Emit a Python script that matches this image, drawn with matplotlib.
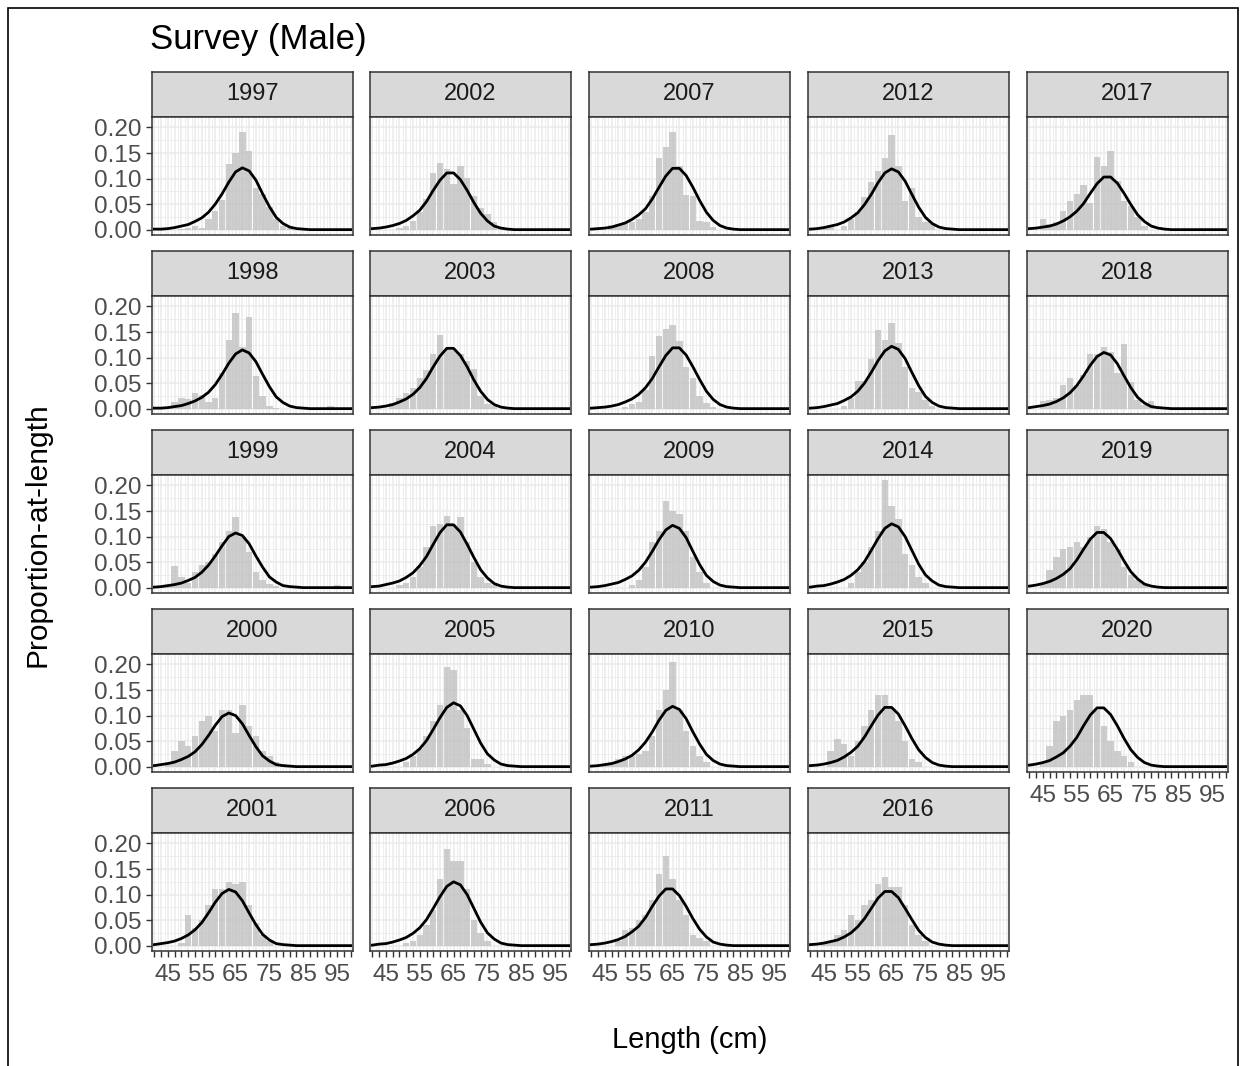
import numpy as np
import matplotlib.pyplot as plt
from matplotlib.patches import Rectangle

# length bins (cm), bar centres and fitted curve share the same grid
LENGTHS = list(range(41, 101, 2))

YEARS = [1997, 1998, 1999, 2000, 2001,
         2002, 2003, 2004, 2005, 2006,
         2007, 2008, 2009, 2010, 2011,
         2012, 2013, 2014, 2015, 2016,
         2017, 2018, 2019, 2020]

# observed proportion-at-length (bars), x = 41, 43, ..., 99
obs_1997 = [0, 0, 0, 0, 0.002, 0.003, 0.008, 0.004, 0.021, 0.037, 0.058, 0.128, 0.151, 0.192, 0.154, 0.081, 0.070, 0.044, 0.021, 0.008, 0.003, 0, 0, 0, 0, 0, 0, 0, 0, 0]
obs_1998 = [0, 0, 0.004, 0.013, 0.020, 0.018, 0.031, 0.026, 0.013, 0.020, 0.070, 0.135, 0.187, 0.120, 0.179, 0.063, 0.024, 0.006, 0.002, 0, 0, 0, 0, 0, 0, 0, 0.005, 0, 0, 0]
obs_1999 = [0, 0, 0.005, 0.043, 0.020, 0.010, 0.030, 0.045, 0.050, 0.065, 0.090, 0.110, 0.138, 0.100, 0.070, 0.030, 0.015, 0.008, 0.004, 0, 0, 0, 0, 0, 0, 0, 0, 0.006, 0, 0]
obs_2000 = [0, 0, 0.010, 0.030, 0.050, 0.040, 0.060, 0.090, 0.100, 0.070, 0.110, 0.110, 0.065, 0.120, 0.080, 0.060, 0.030, 0.020, 0.010, 0.005, 0, 0, 0, 0, 0, 0, 0, 0, 0, 0]
obs_2001 = [0, 0, 0, 0, 0.005, 0.060, 0.035, 0.050, 0.080, 0.110, 0.110, 0.125, 0.120, 0.125, 0.080, 0.045, 0.020, 0.010, 0, 0, 0, 0, 0, 0, 0, 0, 0, 0, 0, 0]
obs_2002 = [0, 0, 0, 0, 0.003, 0.008, 0.017, 0.034, 0.060, 0.111, 0.130, 0.118, 0.090, 0.125, 0.102, 0.066, 0.043, 0.030, 0.014, 0.004, 0, 0, 0, 0, 0, 0, 0, 0, 0, 0]
obs_2003 = [0, 0, 0, 0.011, 0.021, 0.030, 0.041, 0.060, 0.075, 0.107, 0.144, 0.115, 0.114, 0.107, 0.093, 0.077, 0.024, 0.010, 0.006, 0, 0, 0, 0, 0, 0, 0, 0, 0, 0, 0]
obs_2004 = [0, 0, 0, 0, 0.005, 0.010, 0.020, 0.040, 0.080, 0.120, 0.125, 0.140, 0.120, 0.138, 0.090, 0.050, 0.020, 0.010, 0.005, 0, 0, 0, 0, 0, 0, 0, 0, 0, 0, 0]
obs_2005 = [0, 0, 0, 0, 0, 0.010, 0.020, 0.035, 0.060, 0.090, 0.120, 0.195, 0.190, 0.110, 0.075, 0.015, 0.015, 0.005, 0, 0, 0, 0, 0, 0, 0, 0, 0, 0, 0, 0]
obs_2006 = [0, 0, 0, 0, 0, 0.005, 0.010, 0.020, 0.040, 0.070, 0.130, 0.190, 0.165, 0.165, 0.110, 0.050, 0.025, 0.010, 0, 0, 0, 0, 0, 0, 0, 0, 0, 0, 0, 0]
obs_2007 = [0, 0, 0, 0.010, 0.012, 0.015, 0.015, 0.020, 0.035, 0.065, 0.141, 0.162, 0.192, 0.125, 0.068, 0.066, 0.017, 0.015, 0.005, 0, 0, 0, 0, 0, 0, 0, 0, 0, 0, 0]
obs_2008 = [0, 0, 0, 0, 0, 0.004, 0.010, 0.013, 0.037, 0.104, 0.143, 0.156, 0.164, 0.133, 0.081, 0.059, 0.024, 0.011, 0.004, 0, 0, 0, 0, 0, 0, 0, 0, 0, 0, 0]
obs_2009 = [0, 0, 0, 0, 0, 0, 0.005, 0.015, 0.040, 0.090, 0.110, 0.170, 0.150, 0.145, 0.110, 0.060, 0.030, 0.010, 0, 0, 0, 0, 0, 0, 0, 0, 0, 0, 0, 0]
obs_2010 = [0, 0, 0.005, 0.010, 0.015, 0.020, 0.020, 0.025, 0.030, 0.060, 0.110, 0.150, 0.205, 0.110, 0.070, 0.040, 0.020, 0.010, 0, 0, 0, 0, 0, 0, 0, 0, 0, 0, 0, 0]
obs_2011 = [0, 0, 0, 0, 0.010, 0.030, 0.035, 0.050, 0.060, 0.090, 0.140, 0.175, 0.130, 0.090, 0.060, 0.020, 0.015, 0.010, 0, 0, 0, 0, 0, 0, 0, 0, 0, 0, 0, 0]
obs_2012 = [0, 0, 0.005, 0.005, 0, 0.008, 0.020, 0.035, 0.063, 0.094, 0.115, 0.141, 0.185, 0.125, 0.057, 0.081, 0.024, 0.014, 0.011, 0, 0, 0, 0, 0, 0, 0, 0, 0, 0, 0]
obs_2013 = [0, 0, 0, 0, 0, 0.005, 0.020, 0.055, 0.055, 0.098, 0.154, 0.135, 0.168, 0.129, 0.081, 0.041, 0.033, 0.016, 0.006, 0, 0, 0, 0, 0, 0, 0, 0, 0, 0, 0]
obs_2014 = [0, 0, 0, 0, 0, 0, 0.010, 0.030, 0.050, 0.080, 0.110, 0.210, 0.160, 0.135, 0.065, 0.045, 0.020, 0.010, 0, 0, 0, 0, 0, 0, 0, 0, 0, 0, 0, 0]
obs_2015 = [0, 0, 0, 0.030, 0.055, 0.045, 0.020, 0.050, 0.080, 0.110, 0.140, 0.140, 0.115, 0.090, 0.050, 0.015, 0.010, 0, 0, 0, 0, 0, 0, 0, 0, 0, 0, 0, 0, 0]
obs_2016 = [0, 0, 0.005, 0.010, 0.020, 0.030, 0.060, 0.050, 0.080, 0.090, 0.120, 0.135, 0.115, 0.115, 0.080, 0.040, 0.020, 0.010, 0, 0, 0, 0, 0, 0, 0, 0, 0, 0, 0, 0]
obs_2017 = [0, 0, 0.021, 0.011, 0.015, 0.037, 0.057, 0.070, 0.088, 0.053, 0.143, 0.125, 0.153, 0.096, 0.057, 0.047, 0.024, 0.008, 0, 0, 0, 0, 0, 0, 0, 0, 0, 0, 0, 0]
obs_2018 = [0, 0, 0.014, 0.016, 0.021, 0.047, 0.060, 0.047, 0.065, 0.107, 0.107, 0.120, 0.110, 0.070, 0.127, 0.052, 0.016, 0.008, 0.014, 0.006, 0, 0, 0, 0, 0, 0, 0, 0, 0, 0]
obs_2019 = [0, 0, 0.010, 0.035, 0.060, 0.075, 0.080, 0.090, 0.080, 0.100, 0.120, 0.115, 0.090, 0.075, 0.040, 0.025, 0.015, 0.008, 0, 0, 0.003, 0, 0, 0, 0, 0, 0, 0, 0, 0]
obs_2020 = [0, 0, 0.010, 0.040, 0.090, 0.100, 0.110, 0.130, 0.140, 0.140, 0.110, 0.080, 0.050, 0.030, 0.020, 0.010, 0, 0, 0, 0, 0, 0, 0, 0, 0, 0, 0, 0, 0, 0]

# expected proportion-at-length (fitted line), x = 41, 43, ..., 99
fit_1997 = [0.001, 0.001, 0.002, 0.004, 0.007, 0.010, 0.016, 0.023, 0.034, 0.050, 0.070, 0.093, 0.113, 0.121, 0.115, 0.097, 0.070, 0.045, 0.024, 0.012, 0.005, 0.002, 0.001, 0, 0, 0, 0, 0, 0, 0]
fit_1998 = [0.001, 0.001, 0.002, 0.004, 0.006, 0.010, 0.015, 0.022, 0.032, 0.047, 0.067, 0.089, 0.107, 0.115, 0.109, 0.092, 0.067, 0.043, 0.023, 0.012, 0.005, 0.002, 0.001, 0, 0, 0, 0, 0, 0, 0]
fit_1999 = [0.001, 0.002, 0.004, 0.006, 0.009, 0.014, 0.020, 0.030, 0.044, 0.062, 0.082, 0.100, 0.107, 0.102, 0.086, 0.062, 0.040, 0.021, 0.011, 0.004, 0.002, 0.001, 0, 0, 0, 0, 0, 0, 0, 0]
fit_2000 = [0.002, 0.004, 0.006, 0.009, 0.014, 0.020, 0.029, 0.043, 0.061, 0.081, 0.098, 0.105, 0.100, 0.084, 0.061, 0.039, 0.021, 0.011, 0.004, 0.002, 0.001, 0, 0, 0, 0, 0, 0, 0, 0, 0]
fit_2001 = [0.002, 0.004, 0.006, 0.009, 0.014, 0.021, 0.031, 0.045, 0.064, 0.085, 0.102, 0.110, 0.105, 0.088, 0.064, 0.041, 0.022, 0.011, 0.004, 0.002, 0.001, 0, 0, 0, 0, 0, 0, 0, 0, 0]
fit_2002 = [0.002, 0.003, 0.005, 0.008, 0.012, 0.018, 0.027, 0.038, 0.055, 0.077, 0.097, 0.111, 0.111, 0.098, 0.077, 0.053, 0.032, 0.017, 0.007, 0.003, 0.001, 0, 0, 0, 0, 0, 0, 0, 0, 0]
fit_2003 = [0.002, 0.003, 0.005, 0.008, 0.013, 0.019, 0.028, 0.041, 0.059, 0.082, 0.103, 0.118, 0.118, 0.104, 0.082, 0.056, 0.034, 0.018, 0.008, 0.003, 0.001, 0, 0, 0, 0, 0, 0, 0, 0, 0]
fit_2004 = [0.002, 0.003, 0.006, 0.009, 0.013, 0.020, 0.029, 0.043, 0.061, 0.085, 0.108, 0.123, 0.123, 0.109, 0.085, 0.059, 0.035, 0.019, 0.008, 0.003, 0.001, 0, 0, 0, 0, 0, 0, 0, 0, 0]
fit_2005 = [0.001, 0.003, 0.004, 0.007, 0.011, 0.016, 0.024, 0.035, 0.051, 0.073, 0.096, 0.116, 0.125, 0.119, 0.100, 0.073, 0.046, 0.025, 0.013, 0.005, 0.002, 0.001, 0, 0, 0, 0, 0, 0, 0, 0]
fit_2006 = [0.001, 0.003, 0.004, 0.007, 0.011, 0.016, 0.024, 0.035, 0.051, 0.073, 0.096, 0.116, 0.125, 0.119, 0.100, 0.073, 0.046, 0.025, 0.013, 0.005, 0.002, 0.001, 0, 0, 0, 0, 0, 0, 0, 0]
fit_2007 = [0.001, 0.002, 0.003, 0.005, 0.009, 0.013, 0.020, 0.029, 0.041, 0.060, 0.083, 0.105, 0.120, 0.120, 0.106, 0.083, 0.057, 0.034, 0.018, 0.008, 0.003, 0.001, 0, 0, 0, 0, 0, 0, 0, 0]
fit_2008 = [0.001, 0.002, 0.003, 0.005, 0.008, 0.013, 0.019, 0.028, 0.041, 0.059, 0.082, 0.104, 0.119, 0.119, 0.105, 0.082, 0.057, 0.034, 0.018, 0.008, 0.003, 0.001, 0, 0, 0, 0, 0, 0, 0, 0]
fit_2009 = [0.001, 0.002, 0.004, 0.007, 0.010, 0.016, 0.023, 0.034, 0.050, 0.071, 0.094, 0.113, 0.122, 0.116, 0.098, 0.071, 0.045, 0.024, 0.012, 0.005, 0.002, 0.001, 0, 0, 0, 0, 0, 0, 0, 0]
fit_2010 = [0.001, 0.002, 0.004, 0.006, 0.010, 0.015, 0.022, 0.033, 0.048, 0.068, 0.091, 0.110, 0.118, 0.112, 0.094, 0.068, 0.044, 0.024, 0.012, 0.005, 0.002, 0.001, 0, 0, 0, 0, 0, 0, 0, 0]
fit_2011 = [0.002, 0.003, 0.005, 0.008, 0.012, 0.018, 0.027, 0.038, 0.055, 0.077, 0.097, 0.111, 0.111, 0.098, 0.077, 0.053, 0.032, 0.017, 0.007, 0.003, 0.001, 0, 0, 0, 0, 0, 0, 0, 0, 0]
fit_2012 = [0.001, 0.002, 0.004, 0.007, 0.010, 0.015, 0.023, 0.033, 0.049, 0.069, 0.092, 0.111, 0.119, 0.113, 0.095, 0.069, 0.044, 0.024, 0.012, 0.005, 0.002, 0.001, 0, 0, 0, 0, 0, 0, 0, 0]
fit_2013 = [0.001, 0.002, 0.004, 0.007, 0.010, 0.016, 0.023, 0.034, 0.050, 0.071, 0.094, 0.113, 0.122, 0.116, 0.098, 0.071, 0.045, 0.024, 0.012, 0.005, 0.002, 0.001, 0, 0, 0, 0, 0, 0, 0, 0]
fit_2014 = [0.001, 0.003, 0.004, 0.007, 0.011, 0.016, 0.024, 0.035, 0.051, 0.073, 0.096, 0.116, 0.125, 0.119, 0.100, 0.073, 0.046, 0.025, 0.013, 0.005, 0.002, 0.001, 0, 0, 0, 0, 0, 0, 0, 0]
fit_2015 = [0.002, 0.003, 0.005, 0.008, 0.012, 0.019, 0.028, 0.040, 0.058, 0.080, 0.101, 0.116, 0.116, 0.103, 0.080, 0.055, 0.033, 0.018, 0.008, 0.003, 0.001, 0, 0, 0, 0, 0, 0, 0, 0, 0]
fit_2016 = [0.002, 0.003, 0.005, 0.008, 0.011, 0.017, 0.025, 0.037, 0.053, 0.073, 0.093, 0.106, 0.106, 0.094, 0.073, 0.051, 0.030, 0.016, 0.007, 0.003, 0.001, 0, 0, 0, 0, 0, 0, 0, 0, 0]
fit_2017 = [0.002, 0.003, 0.005, 0.007, 0.011, 0.017, 0.025, 0.036, 0.051, 0.071, 0.090, 0.103, 0.103, 0.091, 0.071, 0.049, 0.029, 0.016, 0.007, 0.003, 0.001, 0, 0, 0, 0, 0, 0, 0, 0, 0]
fit_2018 = [0.002, 0.004, 0.006, 0.009, 0.014, 0.021, 0.031, 0.045, 0.064, 0.085, 0.102, 0.110, 0.105, 0.088, 0.064, 0.041, 0.022, 0.011, 0.004, 0.002, 0.001, 0, 0, 0, 0, 0, 0, 0, 0, 0]
fit_2019 = [0.003, 0.005, 0.008, 0.012, 0.018, 0.026, 0.037, 0.054, 0.075, 0.095, 0.108, 0.108, 0.096, 0.075, 0.052, 0.031, 0.017, 0.007, 0.003, 0.001, 0, 0, 0, 0, 0, 0, 0, 0, 0, 0]
fit_2020 = [0.003, 0.005, 0.008, 0.012, 0.019, 0.027, 0.040, 0.057, 0.080, 0.101, 0.115, 0.115, 0.102, 0.080, 0.055, 0.033, 0.018, 0.008, 0.003, 0.001, 0, 0, 0, 0, 0, 0, 0, 0, 0, 0]

OBS = {y: globals()["obs_%d" % y] for y in YEARS}
FIT = {y: globals()["fit_%d" % y] for y in YEARS}

XTICKS = list(range(41, 101, 2))
XLABELS = [45, 55, 65, 75, 85, 95]
YTICKS = [0.0, 0.05, 0.10, 0.15, 0.20]

W, H = 1243, 1066
COL_LEFT = [152, 370, 589, 808, 1027]
ROW_TOP = [117, 296, 475, 654, 833]
PANEL_W, PANEL_H, STRIP_H = 201, 118, 45

plt.rcParams['font.family'] = ['Liberation Sans', 'DejaVu Sans']

fig = plt.figure(figsize=(W / 100, H / 100), dpi=100)


def px_axes(left, top, w, h):
    return fig.add_axes([left / W, 1 - (top + h) / H, w / W, h / H])


for i, year in enumerate(YEARS):
    col, row = i // 5, i % 5
    left, top = COL_LEFT[col], ROW_TOP[row]
    bottom_panel = (row == 4) or (year == 2020)

    # strip
    sax = px_axes(left, top - STRIP_H, PANEL_W, STRIP_H)
    sax.set_facecolor('#D9D9D9')
    sax.set_xticks([])
    sax.set_yticks([])
    for s in sax.spines.values():
        s.set_color('#333333')
        s.set_linewidth(1.1)
    sax.text(0.5, 0.52, str(year), ha='center', va='center', fontsize=17, color='#1A1A1A',
             transform=sax.transAxes)

    ax = px_axes(left, top, PANEL_W, PANEL_H)
    ax.set_xlim(40.3, 99.7)
    ax.set_ylim(-0.0105, 0.2205)
    ax.set_axisbelow(True)

    # grid (major + minor)
    ax.set_xticks(XTICKS)
    ax.set_xticks(list(range(42, 100, 2)), minor=True)
    ax.set_yticks(YTICKS)
    ax.set_yticks([0.025, 0.075, 0.125, 0.175], minor=True)
    ax.grid(True, which='major', color='#EBEBEB', linewidth=1.1)
    ax.grid(True, which='minor', color='#EBEBEB', linewidth=0.6)

    ax.bar(LENGTHS, OBS[year], width=1.9, color='#BEBEBE', alpha=0.75, linewidth=0)
    ax.plot(LENGTHS, FIT[year], color='black', linewidth=2.0)

    for s in ax.spines.values():
        s.set_color('#333333')
        s.set_linewidth(1.1)

    ax.tick_params(which='minor', length=0)
    ax.tick_params(which='major', length=4.5, width=1.0, color='#333333',
                   labelsize=17.5, labelcolor='#4D4D4D', pad=3)
    ax.tick_params(axis='x', pad=5)

    if bottom_panel:
        ax.set_xticklabels([str(t) if t in XLABELS else '' for t in XTICKS])
    else:
        ax.tick_params(axis='x', which='major', length=0, labelbottom=False)

    if col == 0:
        ax.set_yticklabels(['0.00', '0.05', '0.10', '0.15', '0.20'])
    else:
        ax.tick_params(axis='y', which='major', length=0, labelleft=False)

fig.text(150 / W, 1 - 40 / H, 'Survey (Male)', fontsize=25, ha='left', va='center', color='black')
fig.text(690 / W, 1 - 1040 / H, 'Length (cm)', fontsize=21, ha='center', va='center', color='black')
fig.text(38 / W, 1 - 535 / H, 'Proportion-at-length', fontsize=21.5, ha='center', va='center',
         rotation=90, color='black')

# outer frame of the exported image
fig.patches.append(Rectangle((8 / W, -0.01), (1238 - 8) / W, 1 - 8 / H + 0.01,
                             transform=fig.transFigure, fill=False, edgecolor='black',
                             linewidth=1.2))

fig.savefig('out.png', dpi=100)
